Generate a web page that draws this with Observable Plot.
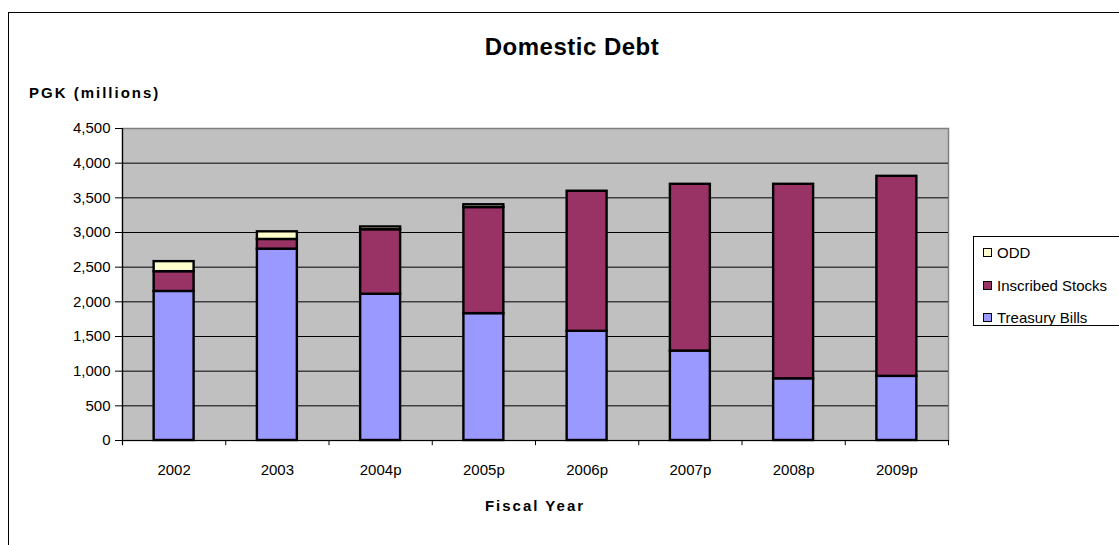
<!DOCTYPE html>
<html>
<head>
<meta charset="utf-8">
<script src="https://cdn.jsdelivr.net/npm/d3@7"></script>
<script src="https://cdn.jsdelivr.net/npm/@observablehq/plot@0.6"></script>
<style>
  html, body { margin: 0; padding: 0; background: #fff; }
  #wrap { position: relative; width: 1119px; height: 545px; overflow: hidden; font-family: "Liberation Sans", Arial, sans-serif; }
  #border { position: absolute; left: 8px; top: 12px; width: 1200px; height: 600px; border-left: 1px solid #000; border-top: 1px solid #000; }
  #chart { position: absolute; left: 0; top: 0; }
  .title { position: absolute; left: 0; width: 1144px; top: 33px; text-align: center; font-weight: bold; font-size: 24px; letter-spacing: 0.5px; color: #000; }
  .ylabel { position: absolute; left: 29px; top: 84px; font-weight: bold; font-size: 15px; letter-spacing: 2px; color: #000; white-space: nowrap; }
  .xlabel { position: absolute; left: 122px; width: 826px; top: 497px; text-align: center; font-weight: bold; font-size: 15px; letter-spacing: 2px; color: #000; }
  #legend { position: absolute; left: 973px; top: 236px; width: 200px; height: 88px; border: 1px solid #000; background: #fff; }
  .item { position: absolute; left: 9px; font-size: 15px; white-space: nowrap; color: #000; }
  .sw { display: inline-block; width: 7px; height: 7px; border: 1.5px solid #000; margin-right: 5px; vertical-align: 1px; }
</style>
</head>
<body>
<div id="wrap">
  <div id="border"></div>
  <div id="chart"></div>
  <div class="title">Domestic Debt</div>
  <div class="ylabel">PGK (millions)</div>
  <div class="xlabel">Fiscal Year</div>
  <div id="legend"></div>
</div>
<script>
const years = ["2002", "2003", "2004p", "2005p", "2006p", "2007p", "2008p", "2009p"];
const treasuryBills   = [2150, 2760, 2110, 1830, 1575, 1290, 890, 925];
const inscribedStocks = [285, 140, 930, 1530, 2020, 2405, 2805, 2885];
const odd             = [145, 110, 40, 40, 0, 0, 0, 0];
const seriesNames  = ["Treasury Bills", "Inscribed Stocks", "ODD"];
const seriesColors = ["#9999FF", "#993366", "#FFFFCC"];
const yTicks = [0, 500, 1000, 1500, 2000, 2500, 3000, 3500, 4000, 4500];
const legendOrder = ["ODD", "Inscribed Stocks", "Treasury Bills"];

const seriesValues = [treasuryBills, inscribedStocks, odd];
const rows = [];
seriesNames.forEach((s, si) => {
  years.forEach((y, i) => {
    if (seriesValues[si][i] > 0) rows.push({year: y, series: s, value: seriesValues[si][i]});
  });
});

const W = 1119, H = 545, mL = 122, mR = 171, mT = 128, mB = 105;
const step = (W - mL - mR) / years.length;
const tickDown = -75;

const chart = Plot.plot({
  width: W, height: H,
  marginLeft: mL, marginRight: mR, marginTop: mT, marginBottom: mB,
  style: {fontFamily: "Liberation Sans, Arial, sans-serif", fontSize: "15px", color: "#000", background: "transparent", overflow: "visible"},
  x: {domain: years, paddingInner: 0.613, paddingOuter: 0.3065, round: false, axis: null, label: null},
  y: {domain: [0, 4500], axis: null, label: null},
  color: {domain: seriesNames, range: seriesColors},
  marks: [
    Plot.frame({fill: "#C0C0C0", stroke: "#808080", strokeWidth: 1.5}),
    Plot.ruleY(yTicks.filter(t => t > 0 && t < 4500), {stroke: "#000", strokeWidth: 1}),
    Plot.barY(rows, {x: "year", y: "value", fill: "series", z: "series", order: seriesNames, stroke: "#000", strokeWidth: 2.4}),
    Plot.ruleY([0], {stroke: "#000", strokeWidth: 1.2}),
    Plot.ruleX([years[0]], {x: d => d, y1: tickDown, y2: 4500, dx: -step / 2, stroke: "#000", strokeWidth: 1.2}),
    Plot.ruleX(years.slice(1), {x: d => d, y1: tickDown, y2: 0, dx: -step / 2, stroke: "#000"}),
    Plot.ruleX([years[years.length - 1]], {x: d => d, y1: tickDown, y2: 0, dx: step / 2, stroke: "#000"}),
    Plot.axisY({ticks: yTicks, tickFormat: d3.format(","), tickSize: 7, tickPadding: 5, fontSize: 15, label: null}),
    Plot.axisX({tickSize: 0, tickPadding: 24, fontSize: 15, label: null})
  ]
});
document.getElementById("chart").appendChild(chart);

const legend = document.getElementById("legend");
legendOrder.forEach((name, i) => {
  const div = document.createElement("div");
  div.className = "item";
  div.style.top = (7 + i * 32.5) + "px";
  const sw = document.createElement("span");
  sw.className = "sw";
  sw.style.background = seriesColors[seriesNames.indexOf(name)];
  div.appendChild(sw);
  div.appendChild(document.createTextNode(name));
  legend.appendChild(div);
});
</script>
</body>
</html>
